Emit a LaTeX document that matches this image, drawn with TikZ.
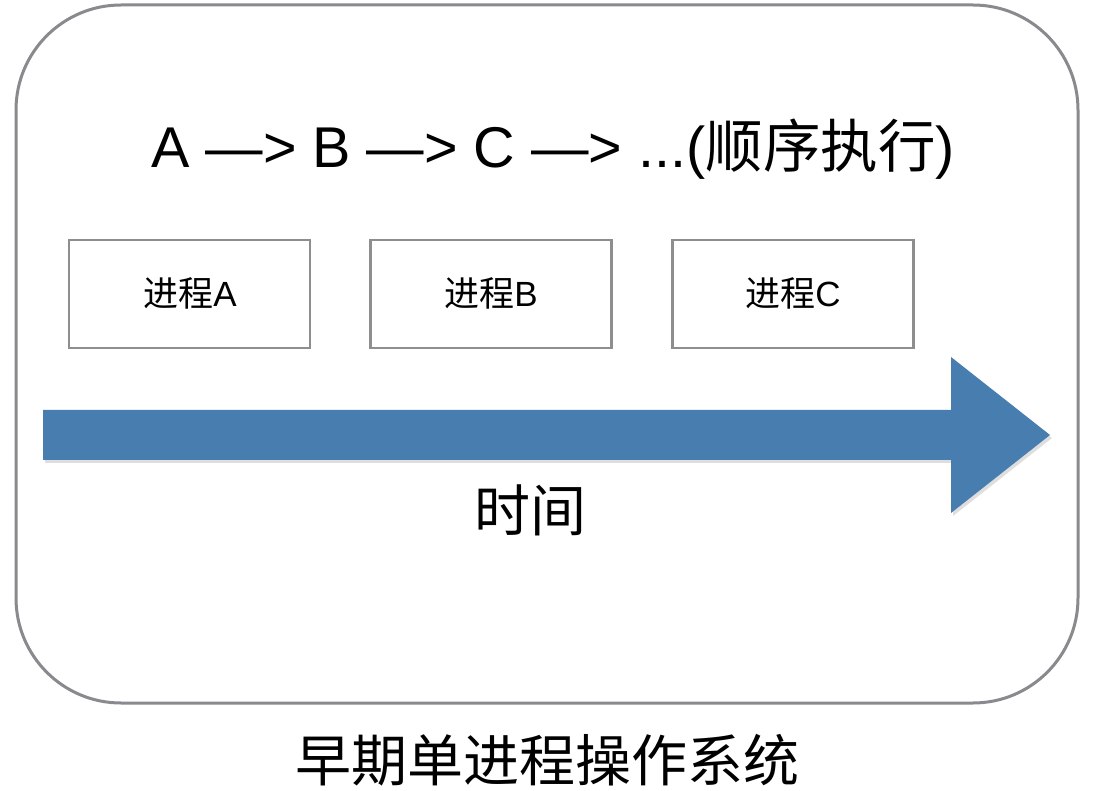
\documentclass[tikz,border=0pt]{standalone}
\usepackage{fontspec}
\setmainfont{Liberation Sans}
\newfontfamily\cjk{Noto Sans CJK SC}
\begin{document}
\begin{tikzpicture}[x=1pt,y=-1pt,
  frame/.style={draw=framegray,line width=3pt,rounded corners=105pt},
  procbox/.style={draw=boxgray,line width=2.6pt,minimum width=241pt,minimum height=108pt,inner sep=0pt},
  boxtext/.style={inner sep=0pt,anchor=base,font=\fontsize{35}{38}\selectfont},
  bigtext/.style={inner sep=0pt,font=\fontsize{56}{60}\selectfont}]
\definecolor{framegray}{RGB}{138,138,142}
\definecolor{boxgray}{RGB}{142,142,142}
\definecolor{arrowblue}{RGB}{72,125,175}
\useasboundingbox (0,0) rectangle (1096,791);
\fill[white] (0,0) rectangle (1096,791);
\draw[frame] (16,5) rectangle (1078,703);
\node[bigtext,anchor=base,font=\fontsize{57.5}{60}\selectfont] (title) at (553,168) {A —> B —> C —> ...({\cjk 顺序执行})};
\node[procbox] (pa) at (189.5,294) {};
\node[procbox] (pb) at (491,294) {};
\node[procbox] (pc) at (793,294) {};
\node[boxtext] (ta) at (190,307) {{\cjk 进程}A};
\node[boxtext] (tb) at (491,307) {{\cjk 进程}B};
\node[boxtext] (tc) at (793,307) {{\cjk 进程}C};
\fill[black!25,opacity=0.5] (45,413) -- (953,413) -- (953,360) -- (1052,438) -- (953,516) -- (953,463) -- (45,463) -- cycle;
\fill[arrowblue] (43,410) -- (951,410) -- (951,357) -- (1050,435) -- (951,513) -- (951,460) -- (43,460) -- cycle;
\node[bigtext,font=\fontsize{56}{60}\cjk] (time) at (530,510) {时间};
\node[bigtext,font=\fontsize{56}{60}\cjk] (caption) at (547,760) {早期单进程操作系统};
\end{tikzpicture}
\end{document}
